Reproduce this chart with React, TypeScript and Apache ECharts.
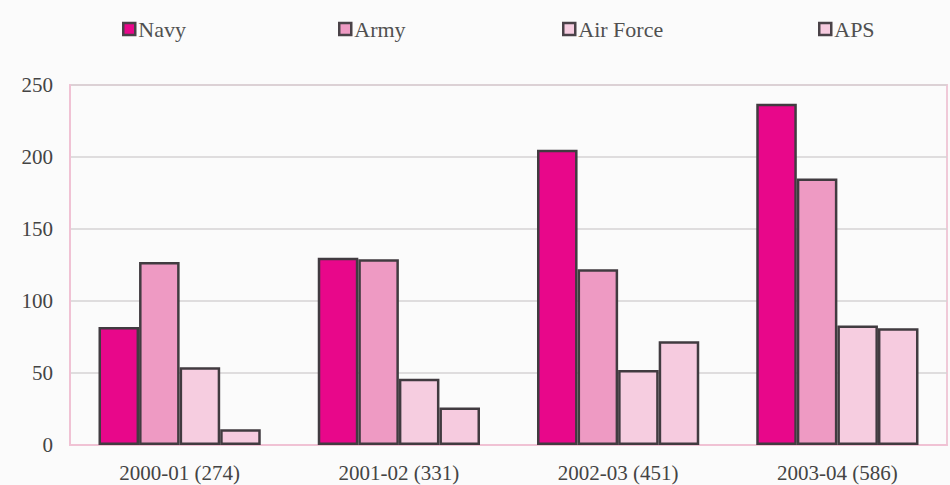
import React, { useEffect, useRef } from "react";
import * as echarts from "echarts";

// Yearly totals shown in brackets under each group
const categories = ["2000-01 (274)", "2001-02 (331)", "2002-03 (451)", "2003-04 (586)"];
const seriesNames = ["Navy", "Army", "Air Force", "APS"];
const navy = [82, 130, 205, 237];
const army = [127, 129, 122, 185];
const airForce = [54, 46, 52, 83];
const aps = [11, 26, 72, 81];

const seriesValues = [navy, army, airForce, aps];
const colors = ["#e8078a", "#ee9ac3", "#f6cde0", "#f6cbdf"];
const legendLeft = [117, 333, 557, 813];

const FONT = '"Liberation Serif", "Times New Roman", serif';

export default function App() {
  const ref = useRef<HTMLDivElement>(null);

  useEffect(() => {
    if (!ref.current) return;
    const chart = echarts.init(ref.current, undefined, { renderer: "svg" });

    chart.setOption({
      animation: false,
      backgroundColor: "#fbfbfb",
      textStyle: { fontFamily: FONT },
      legend: seriesNames.map((name, i) => ({
        data: [name],
        left: legendLeft[i],
        top: 13,
        icon: "rect",
        itemWidth: 12,
        itemHeight: 12,
        itemGap: 5,
        itemStyle: { borderColor: "#4a4248", borderWidth: 2.5 },
        textStyle: { fontFamily: FONT, fontSize: 22, color: "#505050", padding: [0, 0, 0, -2] },
      })),
      grid: {
        left: 70,
        right: 3,
        top: 85,
        bottom: 40,
        show: true,
        borderColor: "#f0c9d8",
        borderWidth: 2,
        backgroundColor: "transparent",
      },
      xAxis: {
        type: "category",
        data: categories,
        axisLine: { show: true, lineStyle: { color: "#f0c2d4", width: 2 } },
        axisTick: { show: false },
        axisLabel: { fontFamily: FONT, fontSize: 21, color: "#444", margin: 17 },
      },
      yAxis: {
        type: "value",
        min: 0,
        max: 250,
        interval: 50,
        axisLine: { show: true, lineStyle: { color: "#f0c2d4", width: 2 } },
        axisTick: { show: false },
        axisLabel: { fontFamily: FONT, fontSize: 21, color: "#444", margin: 17 },
        splitLine: { show: true, lineStyle: { color: "#d6d3d5", width: 1.5 } },
      },
      series: seriesNames.map((name, i) => ({
        name,
        type: "bar",
        data: seriesValues[i],
        barGap: "0%",
        barCategoryGap: "26%",
        itemStyle: { color: colors[i], borderColor: "#413b40", borderWidth: 2.5 },
      })),
    });

    return () => chart.dispose();
  }, []);

  return (
    <div
      ref={ref}
      style={{ position: "fixed", left: 0, top: 0, width: 950, height: 485 }}
    />
  );
}
